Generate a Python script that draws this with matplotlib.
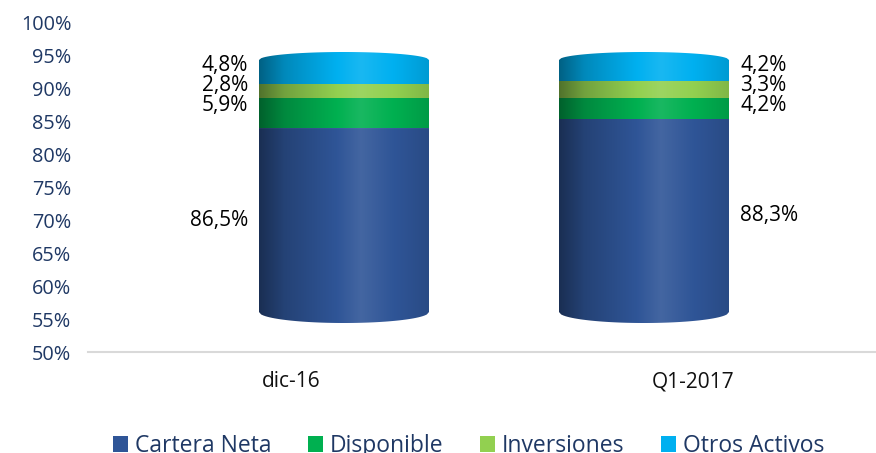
import numpy as np
import matplotlib
matplotlib.use("Agg")
import matplotlib.pyplot as plt
from matplotlib.patches import Patch, Polygon
from matplotlib.colors import to_rgb

plt.rcParams['font.family'] = ['Open Sans', 'DejaVu Sans']

# datos
categorias = ['dic-16', 'Q1-2017']
series = ['Cartera Neta', 'Disponible', 'Inversiones', 'Otros Activos']
cartera = [86.5, 88.3]
disponible = [5.9, 4.2]
inversiones = [2.8, 3.3]
otros = [4.8, 4.2]
colores = ['#2F5597', '#00B050', '#92D050', '#00B0F0']

valores = np.array([cartera, disponible, inversiones, otros])

W, H = 876, 453
fig = plt.figure(figsize=(W / 100, H / 100), dpi=100)

# ejes principales (escala 50% - 100%)
pos = [88 / W, (H - 352) / H, 788 / W, 329 / H]
ax = fig.add_axes(pos)
ax.set_ylim(50, 100)
ax.set_xlim(-0.505, 1.455)
ax.set_yticks(np.arange(50, 101, 5))
ax.set_yticklabels([f'{v}%' for v in range(50, 101, 5)], color='#1F3864', fontsize=14.3)
ax.set_xticks([0, 1])
ax.set_xticklabels(categorias, fontsize=15, color='#111111')
ax.tick_params(length=0, pad=12)
ax.tick_params(axis='x', pad=14)
for s in ['top', 'right', 'left']:
    ax.spines[s].set_visible(False)
ax.spines['bottom'].set_color('#D9D9D9')
ax.spines['bottom'].set_linewidth(1.5)

# ejes para los cilindros (perspectiva 3D de Excel)
axc = fig.add_axes(pos)
axc.set_axis_off()
px_u = 5.04  # pixeles por unidad
xlim_c = (-(344 - 88) / 300, 1 + (876 - 644) / 300)
ylim_c = (50 - 40 / px_u, 50 + 289 / px_u)
media = 85 / 300
h_top = 8 / px_u
h_bot = 11 / px_u
base = 50.0


def sombra(color, n=200):
    c = np.array(to_rgb(color))
    t = np.linspace(0, 1, n)
    f = np.interp(t, [0, 0.15, 0.6, 0.85, 1], [0.55, 0.78, 1.1, 0.97, 0.88])
    img = np.zeros((1, n, 3))
    for i, fi in enumerate(f):
        if fi < 1:
            img[0, i] = c * fi
        else:
            img[0, i] = c + (1 - c) * (fi - 1)
    return np.clip(img, 0, 1)


u = np.linspace(-1, 1, 80)
for j in range(len(categorias)):
    xc = j
    acum = np.concatenate([[0], np.cumsum(valores[:, j])])
    for k in range(len(series)):
        a = max(acum[k], base)
        b = acum[k + 1]
        if b <= base:
            continue
        xs = xc + media * u
        if k == len(series) - 1:
            top = b + h_top * np.sqrt(1 - u ** 2)
        else:
            top = np.full_like(u, b)
        if a == base:
            bot = a - h_bot * np.sqrt(1 - u ** 2)
        else:
            bot = np.full_like(u, a)
        verts = np.vstack([np.column_stack([xs, top]),
                           np.column_stack([xs[::-1], bot[::-1]])])
        poly = Polygon(verts, closed=True, facecolor='none', edgecolor='none')
        axc.add_patch(poly)
        im = axc.imshow(sombra(colores[k]), extent=[xc - media, xc + media, bot.min(), top.max()],
                        aspect='auto', interpolation='bilinear', zorder=2)
        im.set_clip_path(poly)

# etiquetas de datos
for j in range(len(categorias)):
    if j == 0:
        xe, ha, dx = j - media, 'right', -8
    else:
        xe, ha, dx = j + media, 'left', 8
    axc.annotate(f'{cartera[j]:.1f}%'.replace('.', ','), (xe, (base + cartera[j]) / 2),
                 xytext=(dx, 0), textcoords='offset points', ha=ha, va='center', fontsize=15)
    pequenas = [otros[j], inversiones[j], disponible[j]]
    for i, v in enumerate(pequenas):
        axc.annotate(f'{v:.1f}%'.replace('.', ','), (xe, 100),
                     xytext=(dx, -(6 + 19.5 * i) * 0.72), textcoords='offset points',
                     ha=ha, va='center', fontsize=15)

axc.set_xlim(*xlim_c)
axc.set_ylim(*ylim_c)

handles = [Patch(facecolor=c, edgecolor='none') for c in colores]
leg = fig.legend(handles, series, loc='center', bbox_to_anchor=(0.535, 7 / H), ncol=4,
                 frameon=False, fontsize=16.5, handlelength=0.65, handleheight=0.65,
                 handletextpad=0.3, columnspacing=1.6, borderaxespad=0)
for t in leg.get_texts():
    t.set_color('#1F3864')

fig.savefig('out.png', dpi=100)
